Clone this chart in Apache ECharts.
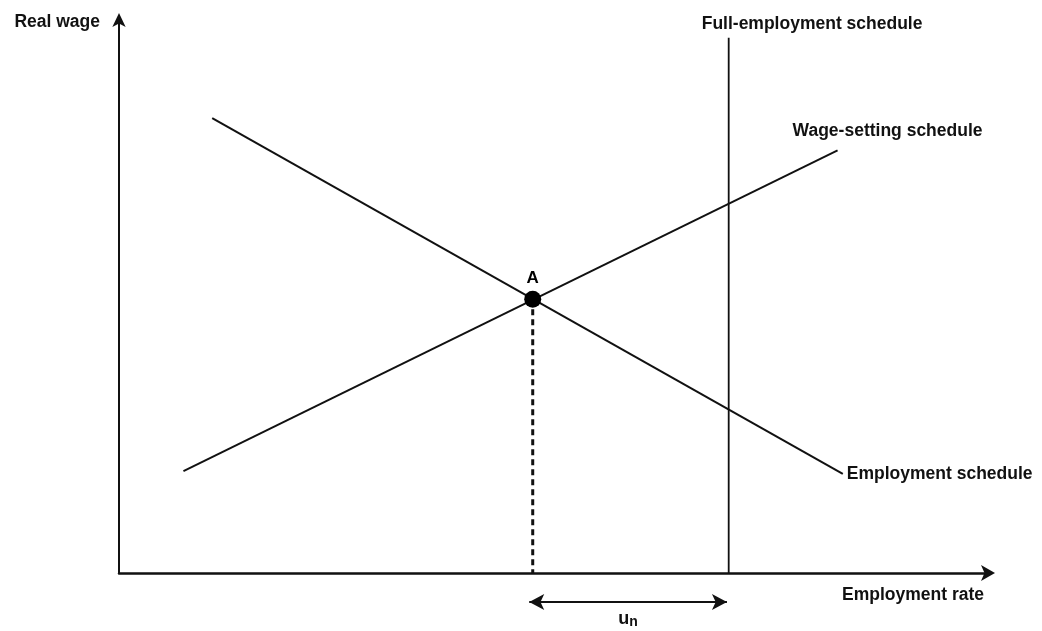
<!DOCTYPE html>
<html>
<head>
<meta charset="utf-8">
<script src="https://cdn.jsdelivr.net/npm/echarts@6/dist/echarts.min.js"></script>
<style>
  html, body { margin: 0; padding: 0; background: #fff; }
  #chart { width: 1042px; height: 631px; }
</style>
</head>
<body>
<div id="chart"></div>
<script>
// values, axes run 0..100 (no units on the original)
var employmentSchedule = [[10.7, 82.1], [83.1, 17.9]];
var wageSetting = [[7.4, 18.4], [82.5, 76.3]];
var pointA = [47.5, 49.4];
var fullEmploymentX = 70;
var fullEmploymentTop = 96.6;
var naturalRate = [47.1, 69.8]; // u_n arrow span on the x scale

var FONT = "'Liberation Sans', Arial, sans-serif";
var INK = '#111';

var chart = echarts.init(document.getElementById('chart'), null, { renderer: 'canvas' });

var labelText = {
  fontFamily: FONT,
  fontWeight: 'bold',
  fontSize: 17.5,
  color: INK
};

var option = {
  animation: false,
  backgroundColor: '#fff',
  grid: [
    { left: 119, right: 52, top: 19, bottom: 58 },
    { left: 119, right: 52, top: 594, height: 16 }
  ],
  xAxis: [
    {
      gridIndex: 0, type: 'value', min: 0, max: 100,
      name: 'Employment rate',
      nameLocation: 'end',
      nameGap: -6,
      nameTextStyle: Object.assign({ align: 'right', verticalAlign: 'top', padding: [13, 0, 0, 0] }, labelText),
      axisLine: { show: true, lineStyle: { color: INK, width: 2.5 }, symbol: ['none', 'arrow'], symbolSize: [12, 14], symbolOffset: [0, 5] },
      axisTick: { show: false }, axisLabel: { show: false }, splitLine: { show: false }
    },
    {
      gridIndex: 1, type: 'value', min: 0, max: 100, show: false
    }
  ],
  yAxis: [
    {
      gridIndex: 0, type: 'value', min: 0, max: 100,
      name: 'Real wage',
      nameLocation: 'end',
      nameGap: -3,
      nameTextStyle: Object.assign({ align: 'right', verticalAlign: 'middle', padding: [0, 19, 0, 0] }, labelText),
      axisLine: { show: true, lineStyle: { color: INK, width: 2 }, symbol: ['none', 'arrow'], symbolSize: [10, 14], symbolOffset: [0, 6] },
      axisTick: { show: false }, axisLabel: { show: false }, splitLine: { show: false }
    },
    {
      gridIndex: 1, type: 'value', min: 0, max: 1, show: false
    }
  ],
  series: [
    {
      name: 'Employment schedule',
      type: 'line',
      data: employmentSchedule,
      showSymbol: false,
      lineStyle: { color: INK, width: 2 },
      endLabel: Object.assign({ show: true, formatter: 'Employment schedule', distance: 4 }, labelText)
    },
    {
      name: 'Wage-setting schedule',
      type: 'line',
      data: wageSetting,
      showSymbol: false,
      lineStyle: { color: INK, width: 2 },
      endLabel: Object.assign({ show: true, formatter: 'Wage-setting schedule', distance: 5, offset: [-50, -19] }, labelText)
    },
    {
      name: 'Full-employment schedule',
      type: 'line',
      data: [[fullEmploymentX, 0], [fullEmploymentX, fullEmploymentTop]],
      showSymbol: false,
      lineStyle: { color: INK, width: 1.8 },
      endLabel: Object.assign({ show: true, formatter: 'Full-employment schedule', distance: 5, offset: [-32, -14] }, labelText)
    },
    {
      name: 'drop',
      type: 'line',
      data: [pointA, [pointA[0], 0]],
      showSymbol: false,
      lineStyle: { color: INK, width: 3, type: [6, 4] }
    },
    {
      name: 'A',
      type: 'scatter',
      data: [pointA],
      symbolSize: 17,
      itemStyle: { color: '#000', opacity: 1 },
      z: 5,
      label: {
        show: true, position: 'top', distance: 4, formatter: 'A',
        fontFamily: FONT, fontWeight: 'bold', fontSize: 17, color: '#000'
      }
    },
    {
      name: 'un',
      type: 'line',
      xAxisIndex: 1,
      yAxisIndex: 1,
      data: [],
      markLine: {
        silent: true,
        symbol: ['arrow', 'arrow'],
        symbolSize: [12, 15],
        lineStyle: { color: INK, width: 2, type: 'solid' },
        label: {
          show: true,
          position: 'insideMiddleBottom',
          distance: 7,
          formatter: '{u|u}{n|n}',
          rich: {
            u: { fontFamily: FONT, fontWeight: 'bold', fontSize: 18, color: INK },
            n: { fontFamily: FONT, fontWeight: 'bold', fontSize: 14, color: INK, padding: [6, 0, 0, 0] }
          }
        },
        data: [[{ coord: [naturalRate[0], 0.5] }, { coord: [naturalRate[1], 0.5] }]]
      }
    }
  ]
};

chart.setOption(option);
</script>
</body>
</html>
